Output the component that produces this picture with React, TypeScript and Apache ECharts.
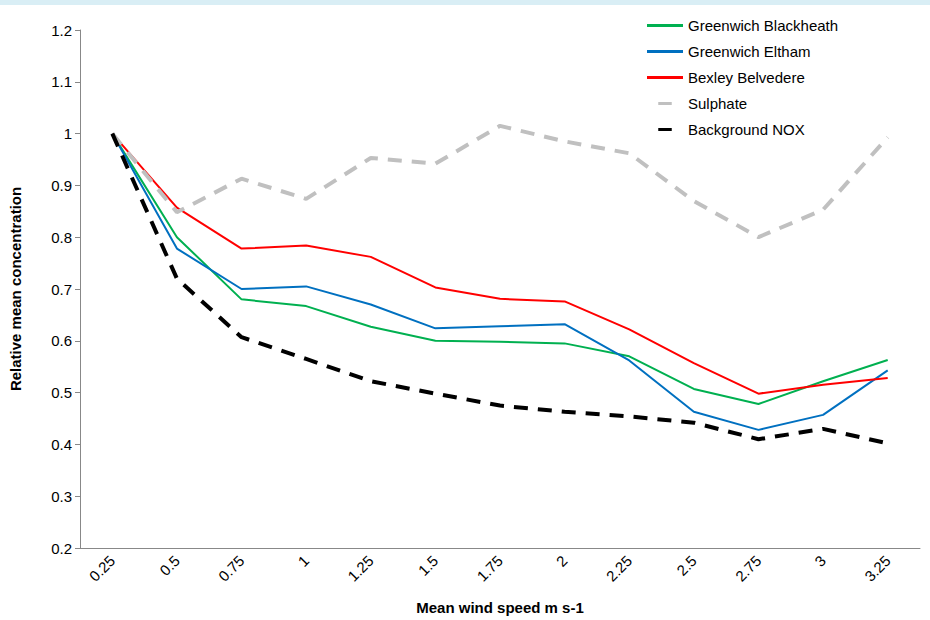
import React, { useEffect, useRef } from "react";
import * as echarts from "echarts";

const categories = ["0.25", "0.5", "0.75", "1", "1.25", "1.5", "1.75", "2", "2.25", "2.5", "2.75", "3", "3.25"];
const blackheath = [1.0, 0.8, 0.68, 0.667, 0.627, 0.6, 0.598, 0.595, 0.57, 0.507, 0.478, 0.522, 0.563];
const eltham = [1.0, 0.778, 0.7, 0.705, 0.67, 0.624, 0.628, 0.632, 0.562, 0.463, 0.428, 0.457, 0.543];
const belvedere = [1.0, 0.857, 0.778, 0.784, 0.762, 0.703, 0.681, 0.676, 0.622, 0.557, 0.498, 0.515, 0.528];
const sulphate = [1.0, 0.848, 0.913, 0.874, 0.953, 0.942, 1.015, 0.985, 0.962, 0.87, 0.8, 0.853, 0.993];
const nox = [1.0, 0.72, 0.607, 0.565, 0.522, 0.498, 0.475, 0.463, 0.454, 0.442, 0.41, 0.43, 0.402];

export default function App() {
  const ref = useRef<HTMLDivElement>(null);
  useEffect(() => {
    const chart = echarts.init(ref.current!, null, { renderer: "svg" });
    const font = "Liberation Sans";
    const mk = (name: string, data: number[], color: string, width: number, type: any) => ({
      name, type: "line", data, showSymbol: false, symbol: "none",
      lineStyle: { color, width, type }, itemStyle: { color },
    });
    const solidIcon = "path://M0,0H36V3H0Z";
    const dashIcon = "path://M0,0H14V4H0ZM22,0H36V4H22Z";
    chart.setOption({
      animation: false,
      textStyle: { fontFamily: font },
      graphic: [{ type: "rect", shape: { x: 0, y: 0, width: 930, height: 5 }, style: { fill: "#d9eef5" } }],
      legend: {
        orient: "vertical", left: 642, top: 13, itemGap: 11, itemWidth: 36, itemHeight: 3,
        textStyle: { fontSize: 15, color: "#000", fontFamily: font },
        data: [
          { name: "Greenwich Blackheath", icon: solidIcon },
          { name: "Greenwich Eltham", icon: solidIcon },
          { name: "Bexley Belvedere", icon: solidIcon },
          { name: "Sulphate", icon: "path://M0,0H18V4H0Z" },
          { name: "Background NOX", icon: "path://M0,0H18V4H0Z" },
        ],
      },
      grid: { left: 80, right: 10, top: 30, bottom: 69, containLabel: false },
      xAxis: {
        type: "category", data: categories, boundaryGap: true,
        name: "Mean wind speed m s-1", nameLocation: "middle", nameGap: 52,
        nameTextStyle: { fontSize: 15, fontWeight: "bold", color: "#000" },
        axisLine: { lineStyle: { color: "#888" } },
        axisTick: { lineStyle: { color: "#888" }, length: 5 },
        axisLabel: { rotate: 45, fontSize: 15, color: "#000", margin: 10 },
      },
      yAxis: {
        type: "value", min: 0.2, max: 1.2, interval: 0.1,
        name: "Relative mean concentration", nameLocation: "middle", nameGap: 57,
        nameTextStyle: { fontSize: 15, fontWeight: "bold", color: "#000" },
        axisLine: { show: true, lineStyle: { color: "#888" } },
        axisTick: { show: true, lineStyle: { color: "#888" }, length: 5 },
        splitLine: { show: false },
        axisLabel: { fontSize: 15, color: "#000", formatter: (v: number) => String(Math.round(v * 10) / 10) },
      },
      series: [
        mk("Greenwich Blackheath", blackheath, "#00b050", 2, "solid"),
        mk("Greenwich Eltham", eltham, "#0070c0", 2, "solid"),
        mk("Bexley Belvedere", belvedere, "#ff0000", 2, "solid"),
        mk("Sulphate", sulphate, "#c0c0c0", 4, [14, 10]),
        mk("Background NOX", nox, "#000000", 4, [14, 10]),
      ],
    });
    return () => chart.dispose();
  }, []);
  return <div ref={ref} style={{ position: "fixed", left: 0, top: 0, width: 930, height: 620, background: "#fff" }} />;
}
